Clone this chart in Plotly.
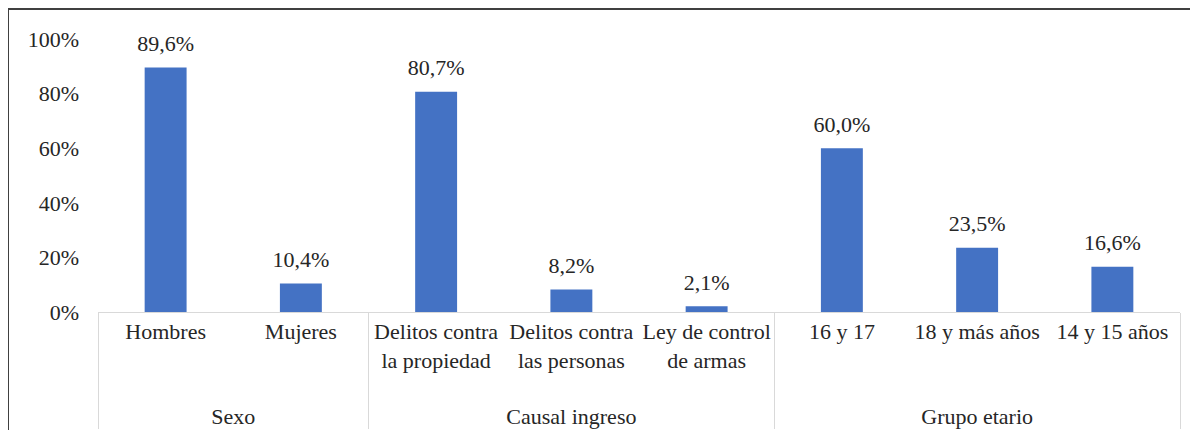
import plotly.graph_objects as go

groups = ["Sexo", "Sexo", "Causal ingreso", "Causal ingreso", "Causal ingreso",
          "Grupo etario", "Grupo etario", "Grupo etario"]
categories = ["Hombres", "Mujeres", "Delitos contra<br>la propiedad",
              "Delitos contra<br>las personas", "Ley de control<br>de armas",
              "16 y 17", "18 y más años", "14 y 15 años"]
values = [89.6, 10.4, 80.7, 8.2, 2.1, 60.0, 23.5, 16.6]
labels = ["89,6%", "10,4%", "80,7%", "8,2%", "2,1%", "60,0%", "23,5%", "16,6%"]
y_ticks = [0, 20, 40, 60, 80, 100]
y_ticktext = ["0%", "20%", "40%", "60%", "80%", "100%"]

FONT = "Liberation Serif"
FS = 22
TXT = "#262626"
group_labels = [" <br>" + g for g in groups]

W, H = 1190, 422
L, R, T, B = 90, 18, 31, 118
pw, ph = W - L - R, H - T - B

fig = go.Figure()
fig.add_trace(go.Bar(
    x=[group_labels, categories], y=values,
    marker=dict(color="#4472C4", line=dict(width=0)),
    hoverinfo="skip",
))
fig.add_trace(go.Scatter(
    x=[group_labels, categories], y=values,
    mode="markers+text", text=labels, textposition="top center",
    marker=dict(size=16, color="rgba(0,0,0,0)"),
    textfont=dict(family=FONT, size=FS, color=TXT),
    cliponaxis=False, hoverinfo="skip",
))
bx = -L / pw
by = (ph + T - 1) / ph
fig.update_layout(
    width=W, height=H,
    margin=dict(l=L, r=R, t=T, b=B),
    paper_bgcolor="white", plot_bgcolor="white",
    bargap=0.69, showlegend=False,
    font=dict(family=FONT, size=FS, color=TXT),
    shapes=[dict(type="line", xref="paper", yref="paper",
                 x0=bx, x1=bx, y0=by, y1=-2,
                 line=dict(color="#404040", width=2)),
            dict(type="line", xref="paper", yref="paper",
                 x0=bx, x1=1.5, y0=by, y1=by,
                 line=dict(color="#404040", width=2))],
)
fig.update_xaxes(showline=True, linecolor="#d9d9d9", linewidth=1,
                 showdividers=True, dividercolor="#d9d9d9", dividerwidth=1,
                 automargin=False, tickangle=0,
                 tickfont=dict(family=FONT, size=FS, color=TXT))
fig.update_yaxes(range=[0, 100], tickvals=y_ticks, ticktext=y_ticktext,
                 showgrid=False, zeroline=False, showline=False,
                 ticklabelstandoff=18, automargin=False,
                 tickfont=dict(family=FONT, size=FS, color=TXT))
fig.write_html("out.html")
